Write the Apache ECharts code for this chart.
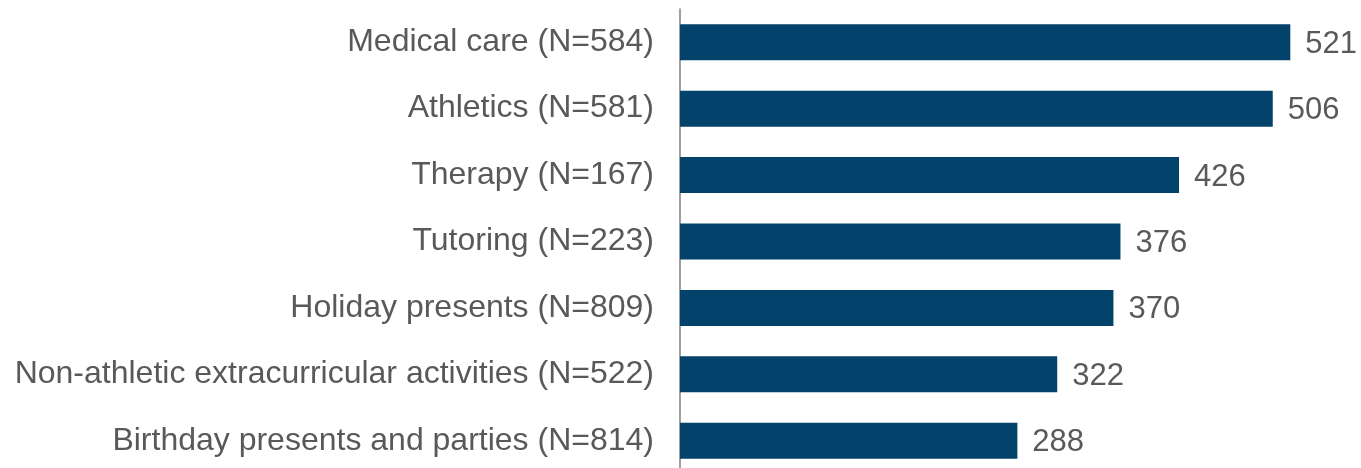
<!DOCTYPE html>
<html>
<head>
<meta charset="utf-8">
<script src="https://cdn.jsdelivr.net/npm/echarts@6/dist/echarts.min.js"></script>
<style>
  html, body { margin: 0; padding: 0; background: #fff; overflow: hidden; }
  /* a bit taller than the window: the last band is cut at the bottom edge like the original */
  #chart { width: 1361px; height: 474px; }
</style>
</head>
<body>
<div id="chart"></div>
<script>
// categories listed bottom to top (category axis draws first item at the bottom)
const categories = [
    "Birthday presents and parties (N=814)",
    "Non-athletic extracurricular activities (N=522)",
    "Holiday presents (N=809)",
    "Tutoring (N=223)",
    "Therapy (N=167)",
    "Athletics (N=581)",
    "Medical care (N=584)"
];
const values = [288, 322, 370, 376, 426, 506, 521];

const textColor = "#595959";
const barColor = "#03426A";

let myChart = echarts.init(document.getElementById("chart"));
myChart.setOption({
    animation: false,
    grid: {
        left: 680,
        right: 25,
        top: 9,
        bottom: 0,
        containLabel: false
    },
    xAxis: {
        type: "value",
        min: 0,
        max: 560,
        show: false
    },
    yAxis: {
        type: "category",
        data: categories,
        axisLine: { show: true, lineStyle: { color: "#808080", width: 1.5 } },
        axisTick: { show: false },
        axisLabel: {
            color: textColor,
            fontSize: 32,
            fontFamily: "Liberation Sans, Arial",
            margin: 26
        }
    },
    series: [
        {
            type: "bar",
            data: values,
            barWidth: 36,
            itemStyle: { color: barColor },
            label: {
                show: true,
                position: "right",
                distance: 15,
                offset: [0, 2],
                color: textColor,
                fontSize: 31,
                fontFamily: "Liberation Sans, Arial"
            }
        }
    ]
});
</script>
</body>
</html>
